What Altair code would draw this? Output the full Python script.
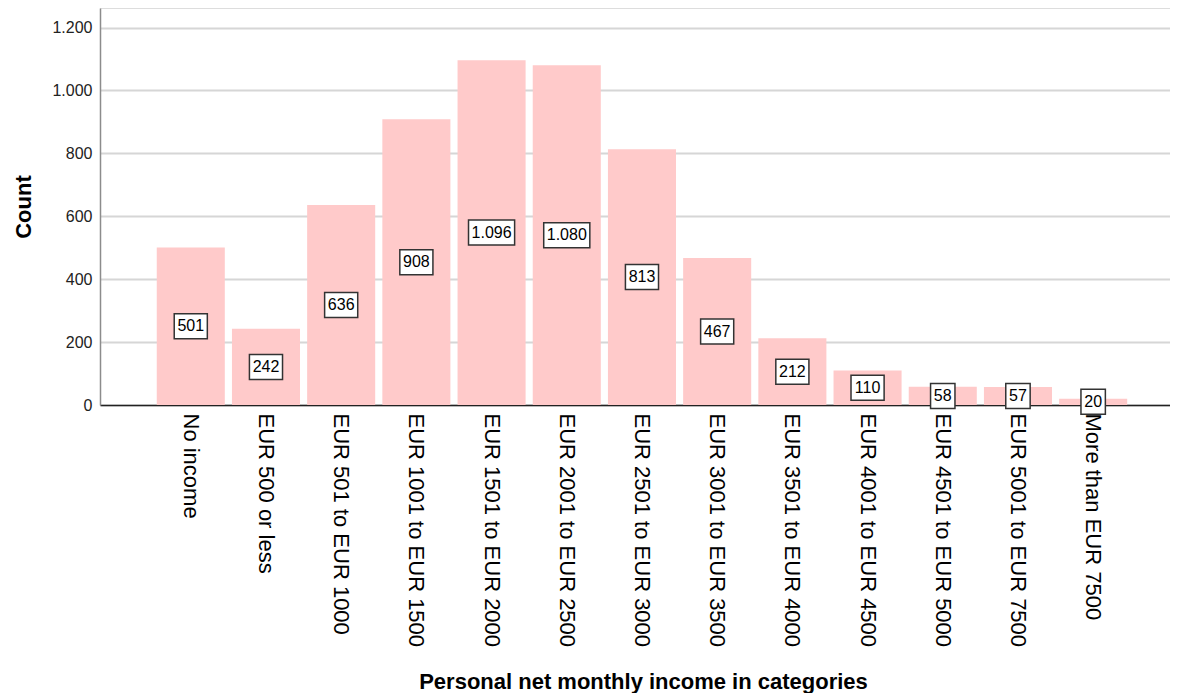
import altair as alt
import pandas as pd

categories = [
    "No income", "EUR 500 or less", "EUR 501 to EUR 1000", "EUR 1001 to EUR 1500",
    "EUR 1501 to EUR 2000", "EUR 2001 to EUR 2500", "EUR 2501 to EUR 3000",
    "EUR 3001 to EUR 3500", "EUR 3501 to EUR 4000", "EUR 4001 to EUR 4500",
    "EUR 4501 to EUR 5000", "EUR 5001 to EUR 7500", "More than EUR 7500",
]
counts = [501, 242, 636, 908, 1096, 1080, 813, 467, 212, 110, 58, 57, 20]
y_ticks = [0, 200, 400, 600, 800, 1000, 1200]

df = pd.DataFrame({"cat": categories, "count": counts})

FONT = "Liberation Sans"

x_enc = alt.X(
    "cat:N",
    sort=categories,
    title="Personal net monthly income in categories",
    scale=alt.Scale(paddingInner=0.095, paddingOuter=0.662, align=0.57),
    axis=alt.Axis(
        labelAngle=90, labelAlign="left", labelBaseline="middle",
        labelFontSize=22, labelFont=FONT, labelColor="#000", labelPadding=8,
        labelLimit=400, labelOverlap=False,
        ticks=False, grid=False,
        domainColor="#222", domainWidth=1.5,
        titleFont=FONT, titleFontSize=22, titleFontWeight="bold", titleColor="#000",
        titleX=543, titleY=283, titleBaseline="alphabetic",
    ),
)

y_scale = alt.Scale(domain=[0, 1262], nice=False)

bars = alt.Chart(df).mark_bar(color="#ffcaca").encode(
    x=x_enc,
    y=alt.Y(
        "count:Q",
        scale=y_scale,
        title="Count",
        axis=alt.Axis(
            values=y_ticks,
            labelExpr="replace(format(datum.value, ','), ',', '.')",
            labelFont=FONT, labelFontSize=16, labelColor="#222", labelPadding=8,
            ticks=False,
            grid=True, gridColor="#d6d6d6", gridWidth=2,
            domainColor="#8c8c8c", domainWidth=1.5,
            titleFont=FONT, titleFontSize=22, titleFontWeight="bold", titleColor="#000",
            titleAngle=-90, titleX=-77, titleY=198.5,
            titleBaseline="middle", titleAlign="center",
        ),
    ),
)

base = alt.Chart(df).transform_calculate(
    mid="datum.count / 2",
    label="replace(format(datum.count, ','), ',', '.')",
).transform_calculate(
    hw="(length(datum.label) * 8.7 + 7 - (indexof(datum.label, '.') >= 0 ? 4.4 : 0)) / 2",
).transform_calculate(
    path="'M' + (-datum.hw) + ',-12.5H' + datum.hw + 'V12.5H' + (-datum.hw) + 'Z'",
)

boxes = base.mark_point(
    filled=True, fill="white", stroke="#333", strokeWidth=1.5, size=4, opacity=1
).encode(
    x=alt.X("cat:N", sort=categories),
    y=alt.Y("mid:Q", scale=y_scale),
    shape=alt.Shape("path:N", scale=None, legend=None),
)

texts = base.mark_text(
    font=FONT, fontSize=16, color="#000", baseline="middle", align="center"
).encode(
    x=alt.X("cat:N", sort=categories),
    y=alt.Y("mid:Q", scale=y_scale),
    text="label:N",
)

chart = alt.layer(bars, boxes, texts).properties(
    width=1070,
    height=397,
    autosize=alt.AutoSizeParams(type="none"),
    padding={"left": 92, "top": 0, "right": 0, "bottom": 288},
).configure_view(stroke="transparent", strokeWidth=0).configure(background="white")

chart.save("out.html", embed_options={"renderer": "svg", "actions": False})
